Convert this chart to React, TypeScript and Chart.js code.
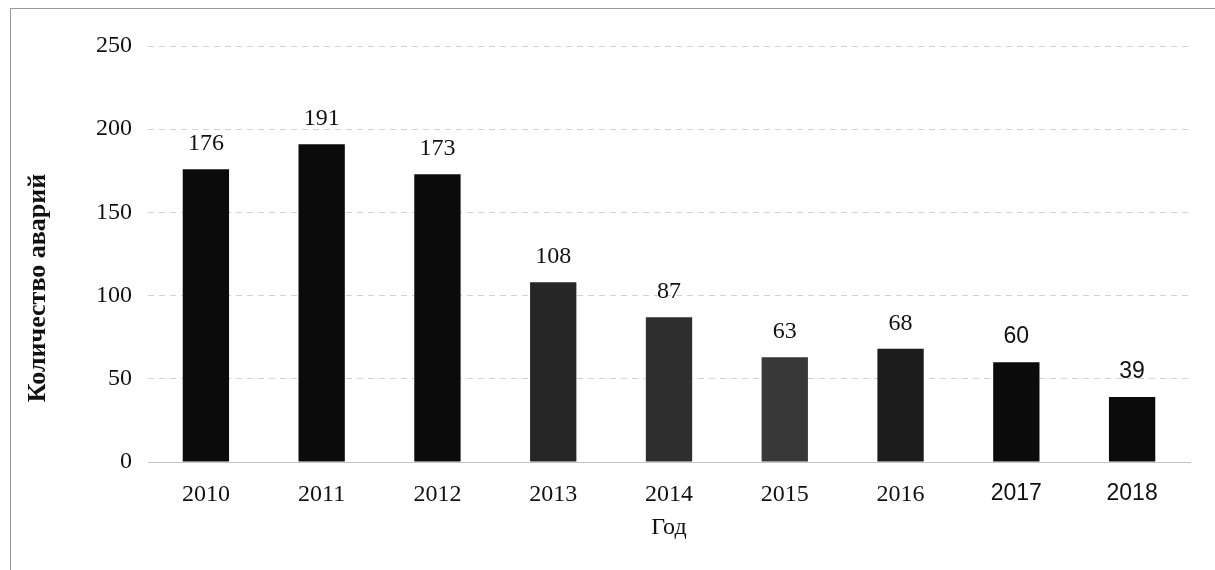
import React, { useEffect, useRef } from "react";
import { Chart, registerables } from "chart.js";

Chart.register(...registerables);

const years = ["2010", "2011", "2012", "2013", "2014", "2015", "2016", "2017", "2018"];
const accidents = [176, 191, 173, 108, 87, 63, 68, 60, 39];
const barColors = ["#0b0b0b", "#0b0b0b", "#0b0b0b", "#262626", "#2e2e2e", "#383838", "#1c1c1c", "#0b0b0b", "#0b0b0b"];
const yTitle = "Количество аварий";
const xTitle = "Год";
const yMax = 250;
const yStep = 50;

const serif = "'Liberation Serif', 'Times New Roman', serif";
const sans = "'Liberation Sans', Arial, sans-serif";

const labelPlugin = {
  id: "barLabels",
  afterDatasetsDraw(chart: any) {
    const ctx = chart.ctx;
    const meta = chart.getDatasetMeta(0);
    ctx.save();
    ctx.fillStyle = "#111";
    ctx.textAlign = "center";
    ctx.textBaseline = "alphabetic";
    meta.data.forEach((bar: any, i: number) => {
      ctx.font = i >= 7 ? `23px ${sans}` : `24px ${serif}`;
      ctx.fillText(String(accidents[i]), bar.x, bar.y - 19);
    });
    // y axis title
    ctx.translate(38, 288);
    ctx.rotate(-Math.PI / 2);
    ctx.font = `bold 26px ${serif}`;
    ctx.textBaseline = "middle";
    ctx.fillText(yTitle, 0, 0);
    ctx.restore();
  },
};

export default function App() {
  const ref = useRef<HTMLCanvasElement>(null);
  useEffect(() => {
    if (!ref.current) return;
    const chart = new Chart(ref.current, {
      type: "bar",
      data: {
        labels: years,
        datasets: [
          {
            data: accidents,
            backgroundColor: barColors,
            borderWidth: 0,
            barPercentage: 0.4,
            categoryPercentage: 1,
          },
        ],
      },
      options: {
        animation: false,
        responsive: false,
        maintainAspectRatio: false,
        layout: { padding: { top: 46, right: 25, left: 0, bottom: 0 } },
        plugins: { legend: { display: false }, tooltip: { enabled: false } },
        scales: {
          x: {
            grid: { display: false, drawTicks: false },
            border: { display: true, color: "#c4c4c4", width: 1 },
            ticks: {
              padding: 18,
              color: "#111",
              font: (c: any) => (c.index >= 7 ? { family: sans, size: 23 } : { family: serif, size: 24 }),
            },
            title: {
              display: true,
              text: xTitle,
              color: "#111",
              font: { family: serif, size: 24 },
              padding: { top: 0, bottom: 28 },
            },
            afterFit: (s: any) => {
              s.height = 108;
            },
          },
          y: {
            min: 0,
            max: yMax,
            ticks: {
              stepSize: yStep,
              padding: 16,
              color: "#111",
              font: { family: serif, size: 24 },
            },
            grid: { color: "#d2d2d2", drawTicks: false, lineWidth: 1 },
            border: { display: false, dash: [6, 5] },
            title: { display: false },
            afterFit: (s: any) => {
              s.width = 148;
            },
          },
        },
      },
      plugins: [labelPlugin],
    });
    return () => chart.destroy();
  }, []);
  return (
    <div style={{ position: "fixed", left: 0, top: 0, width: 1215, height: 570, background: "#fff" }}>
      <div
        style={{
          position: "absolute",
          left: 10,
          top: 8,
          width: 1205,
          height: 562,
          borderTop: "1px solid #999",
          borderLeft: "1px solid #999",
          boxSizing: "border-box",
        }}
      />
      <canvas ref={ref} width={1215} height={570} style={{ position: "absolute", left: 0, top: 0 }} />
    </div>
  );
}
